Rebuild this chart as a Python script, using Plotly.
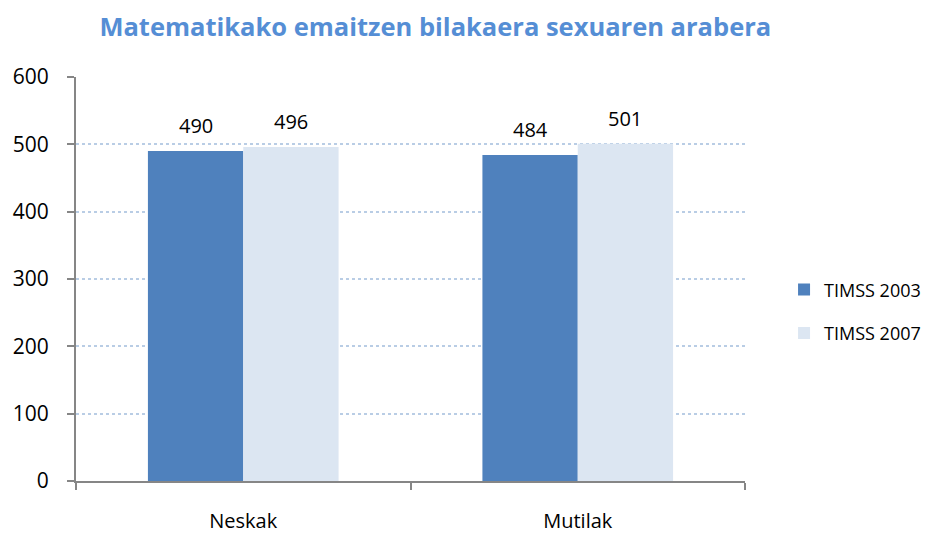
import plotly.graph_objects as go

categories = ["Neskak", "Mutilak"]
series_names = ["TIMSS 2003", "TIMSS 2007"]
values_2003 = [490, 484]
values_2007 = [496, 501]
y_ticks = [0, 100, 200, 300, 400, 500, 600]

colors = ["#4F81BD", "#DCE6F2"]
FONT = "Open Sans"

# page body adds an 8px offset, margins compensate
L, R, T, B = 68, 198, 69, 60
W, H = 935, 533
BARGAP = 0.43
cat_px = (W - L - R) / len(categories)
bar_px = cat_px * (1 - BARGAP) / len(series_names)

fig = go.Figure()
annotations = []
for i, (name, vals, col) in enumerate(zip(series_names, [values_2003, values_2007], colors)):
    fig.add_trace(go.Bar(
        x=categories, y=vals, name=name, legendgroup=name,
        marker=dict(color=col, line=dict(width=0)),
    ))
    for c, v in zip(categories, vals):
        annotations.append(dict(
            x=c, y=v, xref="x", yref="y", text=str(v), showarrow=False,
            xshift=(i - (len(series_names) - 1) / 2) * bar_px, yshift=10,
            yanchor="bottom", font=dict(family=FONT, size=20, color="#000000"),
        ))

fig.update_layout(
    width=W, height=H,
    margin=dict(l=L, r=R, t=T, b=B),
    paper_bgcolor="white", plot_bgcolor="white",
    barmode="group", bargap=BARGAP, bargroupgap=0,
    title=dict(text="<b>Matematikako emaitzen bilakaera sexuaren arabera</b>",
               font=dict(family=FONT, size=25.5, color="#558ED5"),
               x=0.457, xanchor="center", y=0.964, yanchor="middle"),
    legend=dict(xref="container", x=0.83, y=0.42, xanchor="left", yanchor="middle",
                font=dict(family=FONT, size=18, color="#000000"),
                traceorder="grouped", tracegroupgap=17, itemwidth=30),
    showlegend=True,
    annotations=annotations,
)
fig.update_xaxes(showline=True, linecolor="#868686", linewidth=2, automargin=False,
                 ticks="outside", tickson="boundaries", ticklen=7, tickcolor="#868686", tickwidth=2,
                 tickfont=dict(family=FONT, size=20, color="#000000"), showgrid=False,
                 ticklabelstandoff=21)
fig.update_yaxes(range=[0, 600], tickvals=y_ticks, showline=True, linecolor="#868686", linewidth=2,
                 automargin=False,
                 ticks="outside", ticklen=7, tickcolor="#868686", tickwidth=2,
                 tickfont=dict(family=FONT, size=21, color="#000000"),
                 showgrid=True, gridcolor="#B9CDE5", griddash="dot", gridwidth=1.5,
                 zeroline=False, ticklabelstandoff=14)

fig.write_html("out.html")
